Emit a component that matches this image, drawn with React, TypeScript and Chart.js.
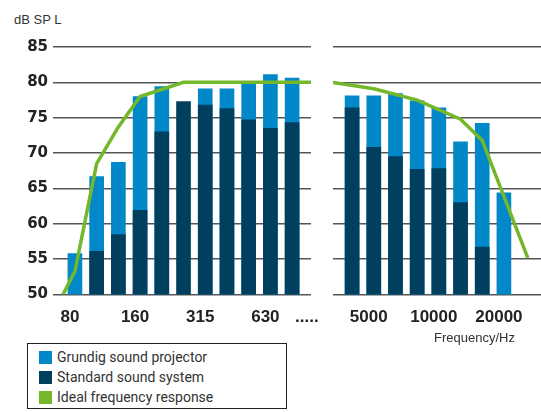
import React, { useEffect, useRef } from 'react';
import { Chart, registerables } from 'chart.js';
Chart.register(...registerables);

// 1/3-octave bands, low range
const leftBands = ['80', '100', '125', '160', '200', '250', '315', '400', '500', '630', '800'];
const leftLabeled = [0, 3, 6, 9];
const leftGrundig = [55.8, 66.7, 68.7, 78.0, 79.4, null, 79.1, 79.1, 80.0, 81.1, 80.6];
const leftStandard = [null, 56.1, 58.5, 61.9, 73.0, 77.3, 76.8, 76.3, 74.7, 73.5, 74.3];

// 1/3-octave bands, high range
const rightBands = ['4000', '5000', '6300', '8000', '10000', '12500', '16000', '20000'];
const rightLabeled = [1, 4, 7];
const rightGrundig = [78.1, 78.1, 78.4, 77.4, 76.4, 71.6, 74.2, 64.4];
const rightStandard = [76.4, 70.8, 69.5, 67.7, 67.8, 63.0, 56.7, null];

// Ideal frequency response (band-index position, dB)
const idealLeftPos = [-0.55, 0, 1, 2, 3, 5, 10.87];
const idealLeftDb = [50, 53.3, 68.5, 73.7, 78.0, 80, 80];
const idealRightPos = [-0.88, 1, 3, 5, 6, 8.1];
const idealRightDb = [80, 79.1, 77.5, 74.8, 71.8, 55.2];

const yMin = 50;
const yMax = 85;
const yStep = 5;

const seriesNames = ['Grundig sound projector', 'Standard sound system', 'Ideal frequency response'];
const LIGHT = '#0088c8';
const DARK = '#003f5e';
const GREEN = '#74b72a';
const seriesColors = [LIGHT, DARK, GREEN];

const ARIAL = "'Liberation Sans', Arial, sans-serif";

function makeConfig(
  bands: string[],
  labeled: number[],
  grundig: (number | null)[],
  standard: (number | null)[],
  idealPos: number[],
  idealDb: number[],
  xMin: number,
  xMax: number,
  showY: boolean
): any {
  return {
    type: 'bar',
    data: {
      datasets: [
        {
          type: 'line',
          label: seriesNames[2],
          data: idealPos.map((x, i) => ({ x, y: idealDb[i] })),
          borderColor: GREEN,
          borderWidth: 3.5,
          pointRadius: 0,
          tension: 0,
          order: 0,
          clip: 0,
        },
        {
          type: 'bar',
          label: seriesNames[1],
          data: standard.map((y, i) => ({ x: i, y })),
          backgroundColor: DARK,
          barThickness: 14,
          grouped: false,
          order: 1,
        },
        {
          type: 'bar',
          label: seriesNames[0],
          data: grundig.map((y, i) => ({ x: i, y })),
          backgroundColor: LIGHT,
          barThickness: 14,
          grouped: false,
          order: 2,
        },
      ],
    },
    options: {
      animation: false,
      responsive: false,
      maintainAspectRatio: false,
      layout: { padding: { top: 47, bottom: 0, left: 0, right: 0 } },
      plugins: { legend: { display: false }, tooltip: { enabled: false } },
      scales: {
        x: {
          type: 'linear',
          min: xMin,
          max: xMax,
          offset: false,
          grid: { display: false },
          border: { display: false },
          afterBuildTicks: (s: any) => {
            s.ticks = labeled.map((v) => ({ value: v }));
          },
          ticks: {
            callback: (v: any) => bands[v] ?? '',
            font: { family: ARIAL, weight: 'bold', size: 17 },
            color: '#222',
            padding: 5,
            labelOffset: -5,
            autoSkip: false,
            maxRotation: 0,
          },
        },
        y: {
          min: yMin,
          max: yMax,
          afterFit: (s: any) => {
            s.width = showY ? 53 : 0;
          },
          grid: { color: '#555', lineWidth: 1.6, drawTicks: false },
          border: { display: false },
          ticks: {
            display: showY,
            stepSize: yStep,
            font: { family: "'DejaVu Sans', sans-serif", weight: 'bold', size: 15 },
            color: '#222',
            padding: 5,
          },
        },
      },
    },
  };
}

function Panel({ left, width, height, config }: { left: number; width: number; height: number; config: () => any }) {
  const ref = useRef<HTMLCanvasElement>(null);
  useEffect(() => {
    const chart = new Chart(ref.current as HTMLCanvasElement, config());
    return () => chart.destroy();
  }, []);
  return (
    <canvas
      ref={ref}
      width={width}
      height={height}
      style={{ position: 'absolute', left, top: 0, width, height }}
    />
  );
}

export default function App() {
  const H = 333;
  return (
    <div style={{ position: 'absolute', left: 0, top: 0, width: 541, height: 412, background: '#fff', overflow: 'hidden' }}>
      <div style={{ position: 'absolute', left: 14, top: 12, fontFamily: ARIAL, fontSize: 13, color: '#333', lineHeight: '16px' }}>
        dB SP L
      </div>
      <Panel
        left={0}
        width={311}
        height={H}
        config={() =>
          makeConfig(leftBands, leftLabeled, leftGrundig, leftStandard, idealLeftPos, idealLeftDb, -1.01, 10.87, true)
        }
      />
      <Panel
        left={333}
        width={208}
        height={H}
        config={() =>
          makeConfig(rightBands, rightLabeled, rightGrundig, rightStandard, idealRightPos, idealRightDb, -0.88, 8.71, false)
        }
      />
      <div style={{ position: 'absolute', left: 295, top: 307, fontFamily: ARIAL, fontWeight: 'bold', fontSize: 17, color: '#222', lineHeight: '20px' }}>
        .....
      </div>
      <div style={{ position: 'absolute', right: 26, top: 330, fontFamily: ARIAL, fontSize: 13, color: '#333', lineHeight: '16px' }}>
        Frequency/Hz
      </div>
      <div
        style={{
          position: 'absolute',
          left: 27,
          top: 343,
          width: 260,
          height: 66,
          border: '1px solid #222',
          boxSizing: 'border-box',
          paddingTop: 3,
        }}
      >
        {seriesNames.map((name, i) => (
          <div key={name} style={{ display: 'flex', alignItems: 'center', height: 20 }}>
            <div style={{ width: 13, height: 13, background: seriesColors[i], marginLeft: 11, marginRight: 5 }} />
            <span style={{ fontFamily: "Roboto, 'Liberation Sans', sans-serif", fontSize: 14, color: '#333' }}>{name}</span>
          </div>
        ))}
      </div>
    </div>
  );
}
